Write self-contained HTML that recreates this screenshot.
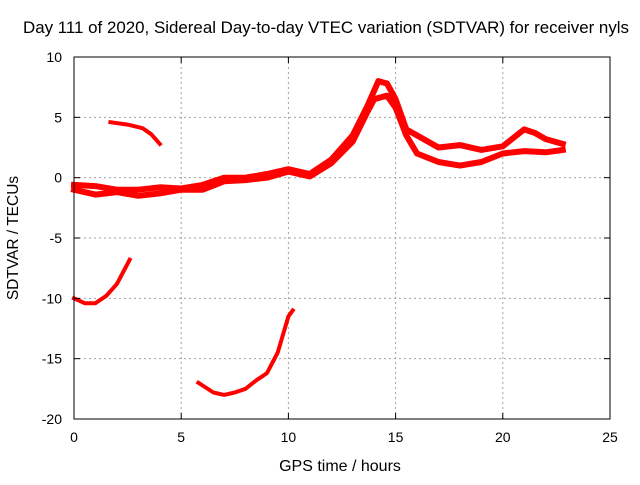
<!DOCTYPE html>
<html><head><meta charset="utf-8"><style>
body{margin:0;background:#fff}
svg text{font-family:"Liberation Sans",sans-serif;font-size:14px;fill:#000}
</style></head><body>
<svg width="640" height="480" xmlns="http://www.w3.org/2000/svg">
<g id="grid"></g>
<g id="series"></g>
<rect x="74" y="57" width="536" height="362" fill="none" stroke="#000" stroke-width="1"/>
<g id="ticks"></g>
<text x="326" y="33" text-anchor="middle" style="font-size:16.8px" textLength="606" lengthAdjust="spacingAndGlyphs">Day 111 of 2020, Sidereal Day-to-day VTEC variation (SDTVAR) for receiver nyls</text>
<text x="340" y="471" text-anchor="middle" style="font-size:16px">GPS time / hours</text>
<text x="18" y="238" text-anchor="middle" style="font-size:15.5px" transform="rotate(-90 18 238)">SDTVAR / TECUs</text>
</svg>
<script>
const xTicks=[0,5,10,15,20,25];
const yTicks=[10,5,0,-5,-10,-15,-20];
const upperX=[0,1,2,3,4,5,6,7,8,9,10,11,12,13,13.7,14.2,14.6,15,15.5,16,17,18,19,20,20.5,21,21.5,22,22.8];
const upperY=[-0.6,-0.7,-1,-1,-0.8,-0.9,-0.6,0,0,0.3,0.7,0.3,1.5,3.5,6,8,7.8,6.5,4,3.5,2.5,2.7,2.3,2.6,3.3,4,3.7,3.2,2.8];
const lowerX=[0,1,2,3,4,5,6,7,8,9,10,11,12,13,13.7,14,14.6,15,15.5,16,17,18,19,20,21,22,22.8];
const lowerY=[-1,-1.4,-1.2,-1.5,-1.3,-1,-1,-0.3,-0.2,0,0.5,0.1,1.2,3,5.5,6.5,6.8,5.8,3.5,2,1.3,1,1.3,2,2.2,2.1,2.3];
const seg1X=[1.7,2.5,3.2,3.6,4];
const seg1Y=[4.6,4.4,4.1,3.6,2.8];
const seg2X=[0,0.5,1,1.5,2,2.6];
const seg2Y=[-10,-10.4,-10.4,-9.8,-8.8,-6.8];
const seg3X=[5.8,6.5,7,7.5,8,8.5,9,9.5,10,10.2];
const seg3Y=[-17,-17.8,-18,-17.8,-17.5,-16.8,-16.2,-14.5,-11.5,-11];
const NS="http://www.w3.org/2000/svg";
const sx=v=>74+v*(536/25);
const sy=v=>419-(v+20)*(362/30);
const grid=document.getElementById('grid'),ticks=document.getElementById('ticks'),ser=document.getElementById('series');
function mk(tag,attrs,parent){const e=document.createElementNS(NS,tag);for(const k in attrs)e.setAttribute(k,attrs[k]);parent.appendChild(e);return e;}
xTicks.forEach(t=>{
  const x=sx(t);
  if(t>0&&t<25){const g=mk('line',{x1:x,x2:x,y1:57,y2:419,stroke:'#a0a0a0','stroke-dasharray':'2,3'},grid);
  
  }
  mk('line',{x1:x,x2:x,y1:419,y2:413,stroke:'#000'},ticks);
  mk('line',{x1:x,x2:x,y1:57,y2:63,stroke:'#000'},ticks);
  const tx=mk('text',{x:x,y:442,'text-anchor':'middle'},ticks);tx.textContent=t;
  
  
});
yTicks.forEach(t=>{
  const y=sy(t);
  if(t>-20&&t<10){const g=mk('line',{x1:74,x2:610,y1:y,y2:y,stroke:'#a0a0a0','stroke-dasharray':'2,3'},grid);
  
  }
  mk('line',{x1:74,x2:80,y1:y,y2:y,stroke:'#000'},ticks);
  mk('line',{x1:604,x2:610,y1:y,y2:y,stroke:'#000'},ticks);
  const tx=mk('text',{x:62,y:y+5,'text-anchor':'end'},ticks);tx.textContent=t;
  
  
});
function draw(xs,ys,name,w){
  const pts=xs.map((x,i)=>sx(x).toFixed(1)+','+sy(ys[i]).toFixed(1)).join(' ');
  const p=mk('polyline',{points:pts,fill:'none',stroke:'#ff0000','stroke-width':w,'stroke-linejoin':'round','stroke-linecap':'square'},ser);
  
  
}
draw(upperX,upperY,'upper-trace',6);
draw(lowerX,lowerY,'lower-trace',6);
draw(seg1X,seg1Y,'short-segment-high',4);
draw(seg2X,seg2Y,'segment-minus-10',4);
draw(seg3X,seg3Y,'segment-minus-17',4);
</script>
</body></html>
